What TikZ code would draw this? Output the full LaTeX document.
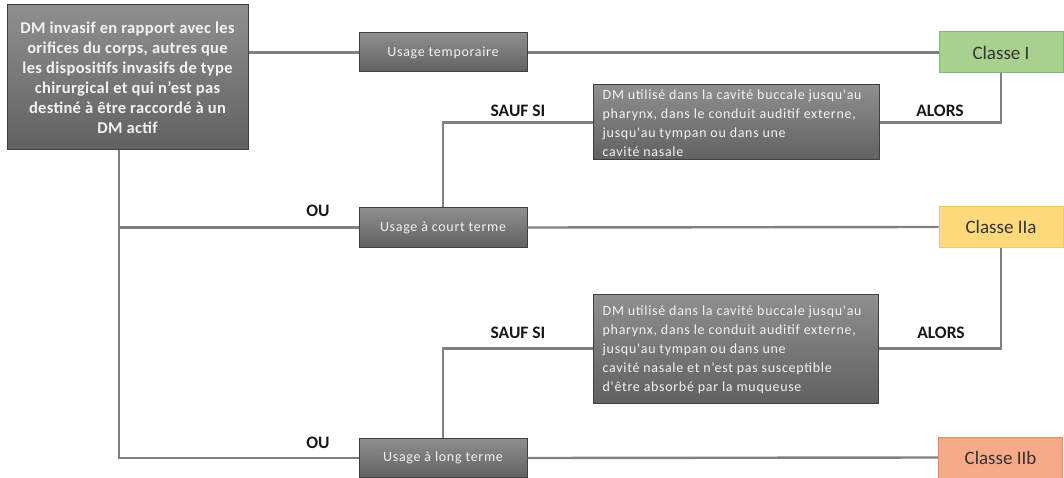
\documentclass[tikz,border=0pt]{standalone}
\usepackage{fontspec}
\setmainfont{Carlito}
\newfontfamily\spacedfont[LetterSpace=5]{Carlito}
\newfontfamily\mainboxfont[LetterSpace=2]{Carlito}
\begin{document}
\begin{tikzpicture}[x=1pt,y=-1pt,
  conn/.style={draw=black!50, line width=2.4pt},
  graybox/.style={draw=black!75, line width=1pt, top color=black!44, bottom color=black!62,
    text=white!95!black, inner sep=4pt},
  usagebox/.style={graybox, minimum width=168pt, minimum height=39pt, font=\spacedfont\fontsize{14}{16}\selectfont},
  dmtext/.style={align=left, text=white!95!black, font=\spacedfont\fontsize{14}{19}\selectfont, anchor=west, inner sep=0pt},
  classbox/.style={line width=1pt, minimum width=124pt, minimum height=41pt, font=\fontsize{19}{22}\selectfont, text=black!80},
  lbl/.style={font=\bfseries\fontsize{17.5}{19}\selectfont, text=black!90}
  ]
\useasboundingbox (0,0) rectangle (1064,478);
\fill[white] (0,0) rectangle (1064,478);

% main box
\node[graybox, minimum width=241pt, minimum height=145pt, align=center,
  font=\mainboxfont\bfseries\fontsize{16.5}{20}\selectfont] (main) at (127.5,77.5)
  {DM invasif en rapport avec les\\orifices du corps, autres que\\les dispositifs invasifs de type\\chirurgical et qui n’est pas\\destiné à être raccordé à un\\DM actif};

% usage boxes
\node[usagebox] (ut) at (443,52.5) {Usage temporaire};
\node[usagebox] (uc) at (443,227.5) {Usage à court terme};
\node[usagebox] (ul) at (443,458) {Usage à long terme};

% class boxes
\node[classbox, draw=green!45!black!50, fill={rgb,255:red,169;green,209;blue,142}] (c1) at (1001,52.5) {Classe I};
\node[classbox, draw={rgb,255:red,240;green,200;blue,100}, fill={rgb,255:red,255;green,217;blue,122}] (c2) at (1001,227) {Classe IIa};
\node[classbox, draw={rgb,255:red,230;green,140;blue,100}, fill={rgb,255:red,246;green,170;blue,135}] (c3) at (1000.5,457.5) {Classe IIb};

% DM boxes
\node[graybox, minimum width=286pt, minimum height=75pt] (dm1) at (736,122.5) {};
\node[dmtext] (dm1t) at ([xshift=10pt,yshift=-1pt]dm1.west)
  {DM utilisé dans la cavité buccale jusqu'au\\pharynx, dans le conduit auditif externe,\\jusqu'au tympan ou dans une\\cavité nasale};
\node[graybox, minimum width=285pt, minimum height=109pt] (dm2) at (735.5,348.5) {};
\node[dmtext] (dm2t) at ([xshift=10pt,yshift=-1pt]dm2.west)
  {DM utilisé dans la cavité buccale jusqu'au\\pharynx, dans le conduit auditif externe,\\jusqu'au tympan ou dans une\\cavité nasale et n’est pas susceptible\\d'être absorbé par la muqueuse};

% connectors
\coordinate (jl) at (119,458);
\draw[conn] (main.east |- ut.west) -- (ut.west);
\draw[conn] (ut.east) -- (c1.west);
\draw[conn] (main.south -| jl) -- (jl) -- (ul.west);
\draw[conn] (uc.west -| jl) -- (uc.west);
\draw[conn] (uc.east) -- (c2.west);
\draw[conn] (ul.east) -- (c3.west);
\draw[conn] (dm1.west) -| (uc.north);
\draw[conn] (dm1.east) -| (c1.south);
\draw[conn] (dm2.west) -| (ul.north);
\draw[conn] (dm2.east) -| (c2.south);

% labels
\node[lbl] (s1) at (518,111) {SAUF SI};
\node[lbl] (s2) at (518,333) {SAUF SI};
\node[lbl] (a1) at (940,111) {ALORS};
\node[lbl] (a2) at (941,333) {ALORS};
\node[lbl] (o1) at (318,211) {OU};
\node[lbl] (o2) at (318,443) {OU};
\end{tikzpicture}
\end{document}
